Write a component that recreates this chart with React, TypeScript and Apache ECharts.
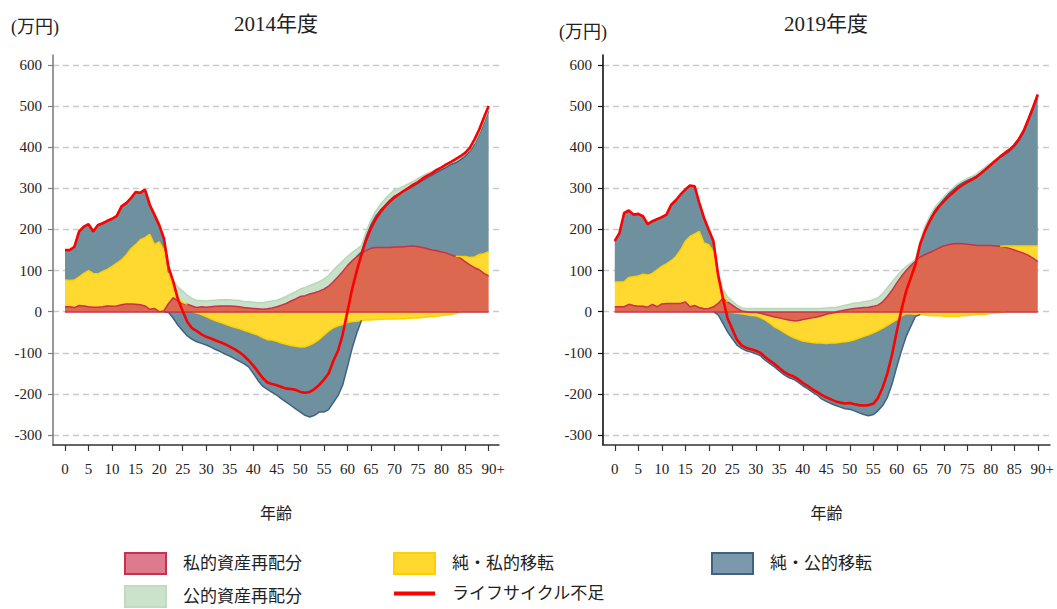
import { useEffect, useRef } from 'react';
import * as echarts from 'echarts';

// ---- data (万円) by age 0..90 ----
const ages = Array.from({ length: 91 }, (_, i) => i);
const xTicks = [0, 5, 10, 15, 20, 25, 30, 35, 40, 45, 50, 55, 60, 65, 70, 75, 80, 85, 90];
const yTicks = [-300, -200, -100, 0, 100, 200, 300, 400, 500, 600];

const seriesNames = ['私的資産再配分', '純・私的移転', '純・公的移転', '公的資産再配分', 'ライフサイクル不足'];
const panelTitles = ['2014年度', '2019年度'];

// 2014
const privAsset2014 = [
  12, 12, 10, 15, 14, 12, 11, 11, 12, 14, 13, 14, 17, 19, 19, 18, 17, 14, 6, 8, 0, 2,
  20, 34, 26, 20, 18, 14, 10, 12, 11, 12, 13, 14, 14, 14, 13, 12, 10, 9, 8, 7, 6, 7,
  9, 12, 16, 20, 26, 31, 37, 39, 43, 46, 50,
  55, 62, 73, 85, 98, 112, 124, 134, 142, 149,
  154, 156, 156, 156, 156, 157, 157, 158, 159, 160, 158, 156, 153, 150, 148, 145, 143, 138, 135, 130, 122, 114, 107, 102, 93, 87,
];
const privTransfer2014 = [
  65, 64, 67, 70, 79, 88, 82, 81, 86, 89, 97, 104, 109, 119, 134, 145, 158, 166, 182, 155, 170, 148,
  75, 22, 6, 2, 0, 0, -3, -7, -12, -17, -22, -26, -30, -34, -38, -41, -45, -49, -53, -57, -63, -68,
  -69, -72, -76, -79, -82, -84, -86, -85, -81, -75, -67,
  -57, -47, -39, -34, -31, -26, -24, -23, -21, -20,
  -20, -19, -19, -18, -18, -18, -17, -17, -16, -15, -15, -14, -13, -12, -11, -9, -8, -7, -4, 4, 12, 18, 26, 37, 48, 59,
];
const pubTransfer2014 = [
  72, 73, 80, 109, 113, 112, 101, 118, 116, 117, 115, 114, 129, 125, 122, 127, 113, 116, 71, 72, 40, 26,
  -2, -16, -33, -46, -59, -67, -70, -70, -69, -69, -70, -71, -73, -74, -76, -79, -81, -85, -97, -110, -118, -121,
  -127, -131, -136, -141, -146, -152, -158, -167, -175, -177, -177,
  -187, -191, -182, -170, -147, -108, -65, -29, 4, 34,
  57, 76, 91, 103, 115, 124, 129, 135, 140, 145, 154, 163, 173, 182, 191, 200, 208, 220, 227, 235, 244, 258, 274, 292, 318, 342,
];
const pubAsset2014 = [
  1, 1, 1, 1, 1, 1, 1, 1, 1, 1, 1, 1, 1, 1, 1, 1, 1, 1, 1, 1, 1, 3,
  8, 19, 28, 28, 22, 18, 17, 15, 15, 15, 15, 15, 15, 15, 15, 15, 15, 15, 15, 15, 16, 17,
  17, 16, 16, 17, 17, 18, 18, 20, 21, 22, 23,
  24, 26, 28, 27, 25, 22, 20, 18, 15, 12,
  12, 12, 14, 15, 15, 15, 14, 12, 12, 12, 12, 11, 10, 9, 8, 6, 6, 6, 6, 6, 5, 4, 4, 4, 4, 4,
];
const lifecycle2014 = [
  150, 150, 158, 195, 207, 213, 195, 211, 215, 221, 226, 233, 256, 264, 276, 291, 289, 297, 260, 236, 211, 179,
  108, 73, 30, 2, -25, -40, -47, -55, -61, -65, -70, -74, -79, -85, -91, -98, -107, -118, -131, -146, -161, -172,
  -176, -179, -183, -187, -188, -190, -195, -197, -195, -188, -178,
  -165, -150, -120, -95, -55, 0, 55, 100, 140, 175,
  203, 225, 242, 256, 268, 278, 286, 294, 301, 309, 315, 324, 331, 337, 345, 351, 358, 364, 371, 378, 386, 398, 419, 443, 472, 500,
];

// 2019
const privAsset2019 = [
  12, 12, 12, 18, 15, 13, 13, 11, 18, 12, 19, 20, 20, 20, 20, 24, 12, 15, 10, 7, 8, 12, 20, 33, 24, 16, 8, 2, 0,
  -2, -2, -4, -7, -10, -13, -15, -18, -20, -22, -22, -19, -17, -15, -13, -10, -6, -4, -2,
  2, 4, 6, 8, 9, 10, 11, 13, 16, 24, 37, 52, 70, 86, 100, 112, 124,
  133, 139, 144, 149, 155, 160, 163, 165, 166, 165, 164, 163, 161, 161, 161, 161, 160, 159, 157, 154, 150, 146, 142, 137, 130, 122,
];
const privTransfer2019 = [
  60, 60, 61, 65, 70, 74, 78, 78, 75, 90, 91, 96, 104, 114, 130, 147, 171, 174, 185, 160, 155, 134, 69, 8,
  0, -2, -4, -5, -7, -7, -8, -10, -13, -18, -24, -28, -32, -37, -41, -45, -52, -56, -60, -63, -66, -71, -72, -74,
  -74, -73, -71, -68, -64, -60, -56, -51, -46, -40, -33, -26, -19, -10, -5, -5, -6,
  -7, -8, -9, -10, -10, -11, -11, -11, -11, -10, -9, -8, -7, -7, -6, -4, -3, -2, 3, 6, 10, 14, 18, 23, 30, 38,
];
const pubTransfer2019 = [
  99, 118, 166, 162, 150, 150, 140, 123, 126, 122, 119, 119, 135, 136, 134, 125, 123, 115, 68, 60, 35, 24,
  -8, -28, -49, -63, -77, -84, -88, -89, -92, -93, -98, -98, -97, -101, -103, -103, -101, -104, -109, -114, -120, -126, -136, -141, -147, -152,
  -158, -163, -166, -173, -182, -190, -197, -199, -195, -188, -175, -150, -115, -85, -55, -30, -5,
  34, 60, 80, 96, 104, 113, 123, 131, 140, 148, 155, 161, 169, 178, 187, 195, 206, 216, 222, 230, 241, 256, 276, 304, 333, 364,
];
const pubAsset2019 = [
  1, 1, 1, 1, 1, 1, 1, 1, 1, 1, 1, 1, 1, 1, 1, 1, 1, 1, 1, 1, 1, 1,
  5, 14, 12, 10, 8, 7, 8, 8, 8, 8, 8, 8, 8, 8, 8, 8, 8, 8, 8, 8, 8, 8, 8, 9, 10, 10,
  11, 12, 12, 13, 13, 14, 15, 16, 18, 20, 21, 20, 16, 14, 10, 6, 3,
  5, 8, 8, 7, 7, 6, 5, 5, 5, 5, 5, 5, 5, 5, 5, 5, 4, 4, 4, 4, 4, 4, 4, 4, 4, 4,
];
const lifecycle2019 = [
  172, 191, 240, 246, 236, 238, 232, 213, 220, 225, 230, 236, 260, 271, 285, 297, 307, 305, 264, 228, 199, 171,
  89, 33, -16, -42, -68, -82, -88, -91, -95, -100, -110, -119, -127, -137, -146, -153, -157, -164, -173, -180, -188, -195, -202, -208, -213, -218,
  -221, -223, -222, -225, -227, -228, -227, -224, -210, -184, -150, -104, -48, 5, 50, 83, 116,
  165, 196, 220, 240, 256, 268, 280, 290, 300, 308, 315, 321, 328, 337, 347, 357, 367, 377, 386, 394, 405, 420, 440, 468, 497, 528,
];

const panels = [
  { title: panelTitles[0], data: [privAsset2014, privTransfer2014, pubTransfer2014, pubAsset2014, lifecycle2014] },
  { title: panelTitles[1], data: [privAsset2019, privTransfer2019, pubTransfer2019, pubAsset2019, lifecycle2019] },
];

const FONT = "'Liberation Serif', 'Noto Sans CJK JP', serif";
const TXT = '#222';

const fills = ['#dc684f', '#ffd92f', '#6f909f', '#c9e1c9'];
const edges = ['#c9304a', '#fdd000', '#3f6283', '#b9d6b9'];
const LINE_RED = '#ff0000';

const layout = [
  { left: 53, width: 446, xMin: -2.55, xMax: 92.2, yLine: '#7f7f7f', titleX: 276, unitX: 11, unitY: 27 },
  { left: 603, width: 447, xMin: -2.5, xMax: 92.6, yLine: '#111', titleX: 826, unitX: 559, unitY: 32 },
];

// split a component into its positive / negative part so that each part stacks on its own side
function signPart(vals: number[], sign: 1 | -1) {
  return vals.map((v, i) => {
    const on = (x: number | undefined) => x !== undefined && x * sign > 0;
    if (on(v)) return v;
    if (on(vals[i - 1]) || on(vals[i + 1])) return 0;
    return null;
  });
}

function pairs(vals: (number | null)[]) {
  // [value, age]: value first so that stacking acts on the y dimension
  return ages.map((a, i) => [vals[i], a]);
}

function buildOption() {
  const grid: any[] = [];
  const xAxis: any[] = [];
  const yAxis: any[] = [];
  const series: any[] = [];
  const graphic: any[] = [];

  panels.forEach((p, pi) => {
    const L = layout[pi];
    grid.push({ left: L.left, top: 55, width: L.width, height: 390, containLabel: false });
    xAxis.push({
      type: 'value',
      gridIndex: pi,
      min: L.xMin,
      max: L.xMax,
      axisLine: { show: true, onZero: false, lineStyle: { color: '#333', width: 1.5 } },
      axisTick: { show: true, length: 6, customValues: xTicks, lineStyle: { color: '#333', width: 1.2 } },
      axisLabel: {
        customValues: xTicks,
        margin: 16,
        fontSize: 15,
        fontFamily: FONT,
        color: TXT,
        formatter: (v: number) => (v === 90 ? '{p|90+}' : String(v)),
        rich: { p: { fontSize: 15, fontFamily: FONT, color: TXT, padding: [0, 0, 0, 9] } },
      },
      splitLine: { show: false },
      name: '年齢',
      nameLocation: 'middle',
      nameGap: 60,
      nameTextStyle: { fontSize: 16, fontFamily: FONT, color: TXT },
    });
    yAxis.push({
      type: 'value',
      gridIndex: pi,
      min: -324,
      max: 624,
      axisLine: { show: true, onZero: false, lineStyle: { color: L.yLine, width: 1.6 } },
      axisTick: { show: true, length: 5, customValues: yTicks, lineStyle: { color: L.yLine, width: 1.2 } },
      axisLabel: { customValues: yTicks, margin: 11, fontSize: 15, fontFamily: FONT, color: TXT },
      splitLine: { show: true, lineStyle: { color: '#c9c9c9', type: [6, 4], width: 1.3 } },
    });

    // negative stack first, then positive stack (which carries the zero baseline)
    ([-1, 1] as const).forEach((sign) => {
      for (let k = 0; k < 4; k++) {
        const s: any = {
          name: seriesNames[k],
          type: 'line',
          xAxisIndex: pi,
          yAxisIndex: pi,
          stack: (sign > 0 ? 'pos' : 'neg') + pi,
          stackStrategy: 'samesign',
          encode: { x: 1, y: 0 },
          symbol: 'none',
          silent: true,
          connectNulls: false,
          data: pairs(signPart(p.data[k], sign)),
          itemStyle: { color: fills[k] },
          lineStyle: { color: edges[k], width: 1.5 },
          areaStyle: { color: fills[k], opacity: 1 },
          emphasis: { disabled: true },
          z: 2,
        };
        if (sign > 0 && k === 3) {
          s.markLine = {
            silent: true,
            symbol: ['none', 'none'],
            label: { show: false },
            lineStyle: { color: edges[0], width: 1.6, type: 'solid' },
            data: [[{ coord: [ages[0], 0] }, { coord: [ages[ages.length - 1], 0] }]],
          };
        }
        series.push(s);
      }
    });
    series.push({
      name: seriesNames[4],
      type: 'line',
      xAxisIndex: pi,
      yAxisIndex: pi,
      encode: { x: 1, y: 0 },
      symbol: 'none',
      silent: true,
      data: pairs(p.data[4]),
      itemStyle: { color: LINE_RED },
      lineStyle: { color: LINE_RED, width: 2.6 },
      emphasis: { disabled: true },
      z: 5,
    });

    graphic.push({
      type: 'text',
      x: L.titleX,
      y: 24,
      style: { text: p.title, align: 'center', verticalAlign: 'middle', font: `21px ${FONT}`, fill: TXT },
    });
    graphic.push({
      type: 'text',
      x: L.unitX,
      y: L.unitY,
      style: { text: '(万円)', align: 'left', verticalAlign: 'middle', font: `18px ${FONT}`, fill: TXT },
    });
  });

  const legendText = { fontSize: 17, fontFamily: FONT, color: TXT, padding: [0, 0, 0, 12] };
  const rectItem = (name: string, fill: string, border: string) => ({
    name,
    icon: 'rect',
    itemStyle: { color: fill, borderColor: border, borderWidth: 2 },
  });
  const legendBase = {
    orient: 'vertical',
    top: 552,
    padding: 0,
    itemWidth: 41,
    itemHeight: 21,
    itemGap: 10,
    selectedMode: false,
    textStyle: legendText,
  };
  const legend = [
    {
      ...legendBase,
      left: 124,
      data: [rectItem(seriesNames[0], '#dc7a8e', '#c9304f'), rectItem(seriesNames[3], '#cbe2cb', '#c0dbc0')],
    },
    {
      ...legendBase,
      left: 393,
      data: [
        rectItem(seriesNames[1], '#ffd92f', '#fdd000'),
        { name: seriesNames[4], icon: 'path://M0 0H41V4H0Z', itemStyle: { color: LINE_RED, borderWidth: 0 } },
      ],
    },
    {
      ...legendBase,
      left: 711,
      data: [rectItem(seriesNames[2], '#7b98ad', '#3f6283')],
    },
  ];

  return {
    animation: false,
    backgroundColor: '#ffffff',
    grid,
    xAxis,
    yAxis,
    series,
    legend,
    graphic,
  };
}

export default function App() {
  const ref = useRef<HTMLDivElement>(null);
  useEffect(() => {
    if (!ref.current) return;
    const chart = echarts.init(ref.current, undefined, { renderer: 'svg' });
    chart.setOption(buildOption() as any);
    return () => chart.dispose();
  }, []);
  return (
    <div
      ref={ref}
      style={{ position: 'fixed', left: 0, top: 0, width: 1057, height: 609, background: '#fff' }}
    />
  );
}
